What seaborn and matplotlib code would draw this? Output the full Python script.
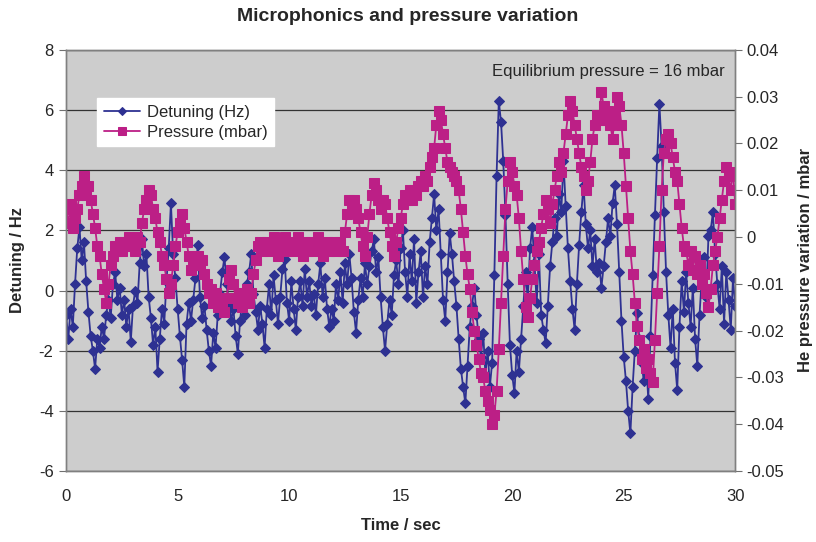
import matplotlib
matplotlib.use('Agg')
import matplotlib.pyplot as plt
import numpy as np
import pandas as pd
import seaborn as sns

# samples every 0.1 s
time_step = 0.1

detuning_hz = [
    -0.8, -1.6, -0.6, -1.2, 0.2, 1.4, 2.1, 1.0, 1.6, 0.3,
    -0.7, -1.5, -2.0, -2.6, -1.6, -1.9, -1.2, -1.6, -0.8, -0.3,
    -0.9, 0.2, 0.6, -0.3, 0.1, -0.8, -0.3, -1.2, -0.6, -1.7,
    -0.5, 0.0, -0.4, 0.9, 1.7, 0.8, 1.2, -0.2, -0.9, -1.8,
    -1.2, -2.7, -1.6, -0.6, -1.1, 0.3, 1.4, 2.9, 1.2, 0.4,
    -0.6, -1.5, -2.3, -3.2, -1.1, -0.4, -1.0, -0.3, 0.4, 1.5,
    -0.2, -0.9, -0.5, -1.3, -2.0, -2.5, -1.4, -1.9, -0.8, -0.1,
    0.6, 1.1, 0.2, -0.4, -1.0, -0.6, -1.5, -2.1, -1.0, -0.3,
    -0.8, 0.2, 0.6, 1.2, -0.1, -0.7, -1.3, -0.5, -1.1, -1.9,
    -0.6, 0.2, -0.8, 0.5, -0.3, -1.1, -0.2, 0.7, 1.05, -0.4,
    -1.0, 0.3, -0.6, -1.3, -0.2, 0.3, -0.5, 0.7, -0.2, 0.3,
    -0.5, -0.1, -0.8, 0.2, 0.9, -0.2, 0.4, -0.6, -1.2, -0.6,
    -1.0, 0.2, -0.3, 0.6, -0.4, 0.9, 0.2, 1.2, 0.4, -0.7,
    -1.4, -0.3, 0.4, -0.2, 0.9, 0.2, 0.8, 1.3, 1.7, 0.6,
    1.1, -0.2, -1.2, -2.0, -1.1, -0.3, -0.8, 0.5, 1.0, 0.2,
    1.4, 2.0, 0.6, -0.2, 1.2, 0.3, 1.7, -0.4, 0.6, 1.3,
    -0.2, 0.8, 0.2, 1.6, 2.4, 3.2, 2.0, 2.7, 1.2, -0.3,
    -1.0, 0.6, 1.9, 1.2, 0.3, -0.5, -1.6, -2.6, -3.2, -3.75,
    -2.5, -1.2, -0.5, 0.1, -0.8, -1.6, -2.2, -1.4, -2.8, -2.0,
    -3.2, -2.4, 0.5, 3.8, 6.3, 5.6, 4.3, 2.5, 0.2, -1.8,
    -2.8, -3.4, -2.0, -2.7, -1.6, -0.5, 0.6, -0.3, 1.4, 2.1,
    0.9, -0.4, 1.2, -0.8, -1.3, -1.75, -0.5, 0.8, 1.6, 2.4,
    1.8, 3.2, 2.6, 4.3, 2.8, 1.4, 0.3, -0.6, -1.3, 0.2,
    1.5, 2.6, 3.5, 2.2, 1.4, 2.0, 0.8, 1.7, 0.6, 0.9,
    0.1, 0.8, 1.6, 2.4, 1.8, 2.9, 3.5, 2.2, 0.6, -1.0,
    -2.2, -3.0, -4.0, -4.75, -3.2, -2.0, -0.75, -1.6, -2.4, -3.0,
    -2.2, -3.6, -1.5, 0.5, 2.5, 4.4, 6.2, 4.8, 2.6, 0.6,
    -0.8, -1.9, -0.6, -2.4, -3.3, -1.2, 0.3, -0.7, 0.6, -0.4,
    -1.2, 0.1, -1.6, -2.5, -0.8, 0.4, 1.1, -0.2, 1.8, 2.0,
    2.6, 1.2, 0.2, -0.6, 0.8, -1.1, 0.6, -0.3, -1.3, 0.4,
    -0.5,
]

pressure_mbar = [
    0.006, 0.003, 0.007, 0.002, 0.004, 0.006, 0.009, 0.011, 0.013, 0.009,
    0.011, 0.008, 0.005, 0.002, -0.002, -0.004, -0.008, -0.011, -0.014, -0.010,
    -0.006, -0.004, -0.002, -0.003, -0.001, -0.003, -0.001, -0.002, 0.000, -0.002,
    -0.001, -0.003, 0.000, -0.001, 0.003, 0.006, 0.008, 0.010, 0.009, 0.006,
    0.004, 0.001, -0.001, -0.004, -0.006, -0.009, -0.012, -0.010, -0.006, -0.002,
    0.001, 0.003, 0.005, 0.002, -0.001, -0.004, -0.007, -0.005, -0.006, -0.004,
    -0.006, -0.005, -0.008, -0.010, -0.012, -0.011, -0.014, -0.012, -0.015, -0.013,
    -0.015, -0.016, -0.013, -0.009, -0.007, -0.010, -0.013, -0.014, -0.012, -0.015,
    -0.013, -0.011, -0.014, -0.012, -0.008, -0.005, -0.002, -0.001, -0.003, -0.002,
    -0.001, -0.003, -0.002, 0.000, -0.002, -0.004, -0.001, -0.002, 0.000, -0.003,
    -0.002, -0.001, -0.003, -0.002, 0.000, -0.002, -0.004, -0.001, -0.003, -0.002,
    -0.001, -0.003, -0.002, 0.000, -0.002, -0.004, -0.002, -0.001, -0.003, -0.002,
    -0.001, -0.003, -0.002, -0.001, -0.003, 0.001, 0.005, 0.008, 0.007, 0.008,
    0.006, 0.004, 0.001, -0.002, -0.004, 0.000, 0.005, 0.009, 0.0115, 0.010,
    0.008, 0.006, 0.008, 0.007, 0.004, 0.001, -0.002, -0.004, -0.001, 0.002,
    0.004, 0.007, 0.009, 0.008, 0.010, 0.008, 0.010, 0.009, 0.011, 0.012,
    0.011, 0.013, 0.012, 0.015, 0.017, 0.019, 0.024, 0.027, 0.025, 0.022,
    0.019, 0.016, 0.015, 0.014, 0.013, 0.012, 0.010, 0.006, 0.001, -0.004,
    -0.008, -0.011, -0.016, -0.020, -0.023, -0.026, -0.029, -0.030, -0.033, -0.035,
    -0.037, -0.040, -0.038, -0.033, -0.024, -0.014, -0.004, 0.006, 0.012, 0.016,
    0.014, 0.011, 0.009, 0.004, -0.003, -0.009, -0.015, -0.017, -0.013, -0.009,
    -0.006, -0.003, -0.001, 0.002, 0.005, 0.008, 0.006, 0.003, 0.007, 0.010,
    0.013, 0.016, 0.014, 0.018, 0.022, 0.026, 0.029, 0.027, 0.024, 0.021,
    0.018, 0.015, 0.013, 0.010, 0.012, 0.016, 0.021, 0.024, 0.026, 0.025,
    0.031, 0.028, 0.025, 0.027, 0.024, 0.021, 0.026, 0.030, 0.028, 0.024,
    0.018, 0.011, 0.004, -0.003, -0.008, -0.014, -0.019, -0.022, -0.026, -0.024,
    -0.028, -0.026, -0.029, -0.031, -0.022, -0.012, -0.002, 0.010, 0.018, 0.021,
    0.022, 0.020, 0.017, 0.014, 0.012, 0.007, 0.002, -0.002, -0.003, -0.006,
    -0.003, -0.007, -0.004, -0.008, -0.006, -0.010, -0.008, -0.012, -0.015, -0.011,
    -0.006, -0.003, 0.000, 0.004, 0.008, 0.012, 0.015, 0.013, 0.010, 0.014,
    0.007,
]

detuning_ticks = [-6, -4, -2, 0, 2, 4, 6, 8]
pressure_ticks = [-0.05, -0.04, -0.03, -0.02, -0.01, 0, 0.01, 0.02, 0.03, 0.04]
time_ticks = [0, 5, 10, 15, 20, 25, 30]

blue = '#2E3192'
magenta = '#BC1F86'

df = pd.DataFrame({
    'time': np.round(np.arange(len(detuning_hz)) * time_step, 1),
    'detuning': detuning_hz,
    'pressure': pressure_mbar,
})

sns.set_style('white')
plt.rcParams['font.family'] = ['Liberation Sans', 'DejaVu Sans']
plt.rcParams['axes.unicode_minus'] = False

fig = plt.figure(figsize=(8.16, 5.42), dpi=100)
ax = fig.add_axes([0.081, 0.131, 0.82, 0.777])
ax2 = ax.twinx()

ax.set_facecolor('#CDCDCD')
ax2.patch.set_visible(False)

# dense markers to get the thick band look of the original
sns.lineplot(data=df, x='time', y='detuning', ax=ax, color=blue, lw=1.3,
             marker='D', markersize=5, markeredgecolor=blue,
             label='Detuning (Hz)', legend=False)
sns.lineplot(data=df, x='time', y='pressure', ax=ax2, color=magenta, lw=1.3,
             marker='s', markersize=6.5, markeredgecolor=magenta,
             label='Pressure (mbar)', legend=False)

ax.set_xlim(0, 30)
ax.set_ylim(-6, 8)
ax2.set_ylim(-0.05, 0.04)
ax.set_xticks(time_ticks)
ax.set_yticks(detuning_ticks)
ax2.set_yticks(pressure_ticks)
ax2.set_yticklabels([f'{v:g}' for v in pressure_ticks])

ax.yaxis.grid(True, color='#333333', lw=0.9)
ax.set_axisbelow(True)

for a in (ax, ax2):
    a.tick_params(axis='both', direction='out', length=5, width=0.8,
                  color='#707070', labelsize=12, pad=4)
    for s in a.spines.values():
        s.set_color('#808080')
        s.set_linewidth(1.0)
ax.tick_params(axis='x', pad=8)
ax2.tick_params(axis='y', pad=3)

ax.set_xlabel('Time / sec', fontsize=12, fontweight='bold', labelpad=10)
ax.set_ylabel('Detuning / Hz', fontsize=12, fontweight='bold', labelpad=10)
ax2.set_ylabel('He pressure variation / mbar', fontsize=12, fontweight='bold',
               labelpad=10)
fig.suptitle('Microphonics and pressure variation', fontsize=14,
             fontweight='bold', y=0.985)

ax2.text(0.985, 0.948, 'Equilibrium pressure = 16 mbar', transform=ax.transAxes,
         ha='right', va='center', fontsize=12)

h1, l1 = ax.get_legend_handles_labels()
h2, l2 = ax2.get_legend_handles_labels()
leg = ax2.legend(h1 + h2, l1 + l2, loc='upper left',
                 bbox_to_anchor=(0.046, 0.886), borderaxespad=0,
                 fontsize=12, frameon=True, fancybox=False, framealpha=1,
                 edgecolor='white', handlelength=2.2, borderpad=0.4,
                 labelspacing=0.3, handletextpad=0.4, markerscale=0.8)

fig.savefig('out.png', dpi=100)
